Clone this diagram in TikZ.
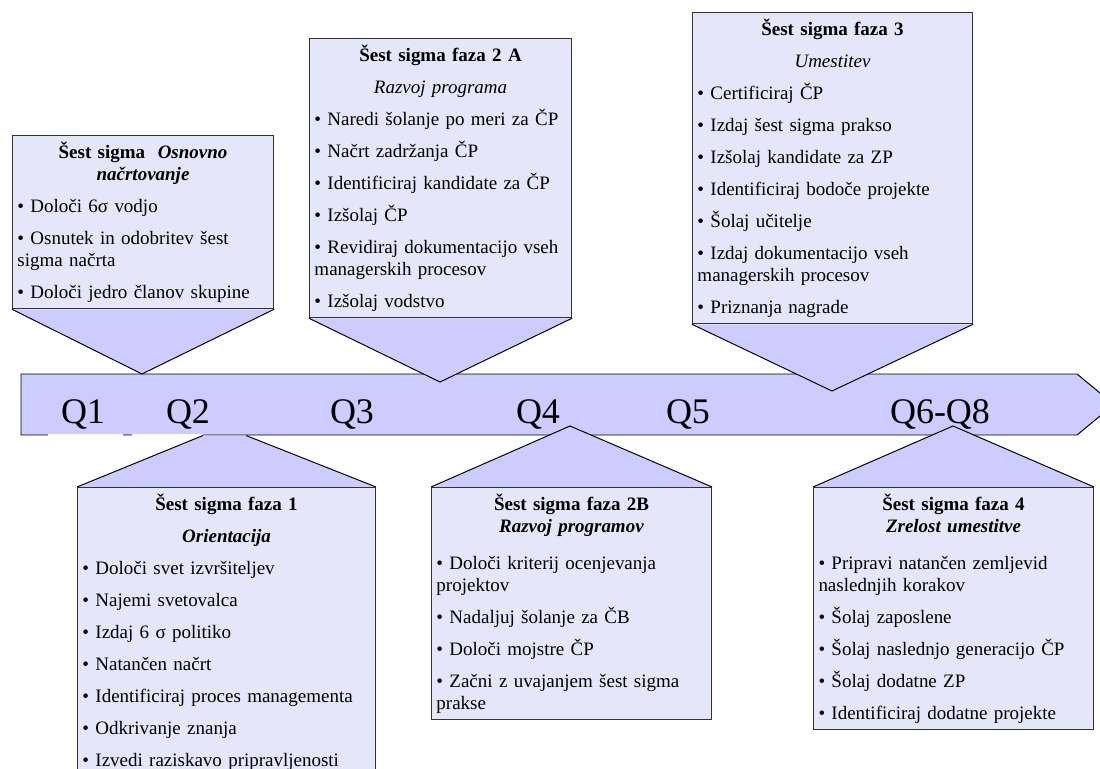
\documentclass[tikz,border=0pt]{standalone}
\usepackage{fontspec}
\setmainfont{Liberation Serif}
\usetikzlibrary{positioning,backgrounds}

\definecolor{bandblue}{RGB}{204,204,255}
\definecolor{cardblue}{RGB}{230,230,250}
\setlength{\parindent}{0pt}

\newcommand{\cardgap}{\vspace{7.1pt}}
\newcommand{\cardhead}[1]{{\centering #1\par}}
\newcommand{\task}[1]{\cardgap\noindent\textbullet\ #1\par}

\begin{document}
\begin{tikzpicture}[
  x=0.025cm, y=-0.025cm,
  phase/.style={draw=black!80,line width=0.7pt,fill=cardblue,anchor=north west,align=left,inner xsep=0.125cm,inner ysep=0.16cm,font=\fontsize{13.5}{15.65}\selectfont},
  pointer/.style={draw=black,line width=0.7pt,fill=bandblue,line join=miter},
  quarter/.style={anchor=base,inner sep=0pt,font=\fontsize{25.6}{30}\selectfont}
]
  \useasboundingbox (0,0) rectangle (1100,769);

  % upper phases
  \node[phase, text width=6.275cm] (base) at (12,135) {\cardhead{\textbf{Šest sigma \ \textit{Osnovno}}}\cardhead{\textbf{\textit{načrtovanje}}}
    \task{Določi 6σ vodjo}
    \task{Osnutek in odobritev šest\newline sigma načrta}
    \task{Določi jedro članov skupine}};
  \node[phase, text width=6.30cm] (deva) at (309,38) {\cardhead{\textbf{Šest sigma faza 2 A}}\cardgap\cardhead{\textit{Razvoj programa}}
    \task{Naredi šolanje po meri za ČP}
    \task{Načrt zadržanja ČP}
    \task{Identificiraj kandidate za ČP}
    \task{Izšolaj ČP}
    \task{Revidiraj dokumentacijo vseh\newline managerskih procesov}
    \task{Izšolaj vodstvo}};
  \node[phase, text width=6.75cm] (deploy) at (692,12) {\cardhead{\textbf{Šest sigma faza 3}}\cardgap\cardhead{\textit{Umestitev}}
    \task{Certificiraj ČP}
    \task{Izdaj šest sigma prakso}
    \task{Izšolaj kandidate za ZP}
    \task{Identificiraj bodoče projekte}
    \task{Šolaj učitelje}
    \task{Izdaj dokumentacijo vseh\newline managerskih procesov}
    \task{Priznanja nagrade}};

  % lower phases
  \node[phase, text width=7.20cm] (orient) at (77,487) {\cardhead{\textbf{Šest sigma faza 1}}\cardgap\cardhead{\textbf{\textit{Orientacija}}}
    \task{Določi svet izvršiteljev}
    \task{Najemi svetovalca}
    \task{Izdaj 6 σ politiko}
    \task{Natančen načrt}
    \task{Identificiraj proces managementa}
    \task{Odkrivanje znanja}
    \task{Izvedi raziskavo pripravljenosti}};
  \node[phase, text width=6.75cm] (devb) at (431,487) {\cardhead{\textbf{Šest sigma faza 2B}}\cardhead{\textbf{\textit{Razvoj programov}}}\vspace{3.6pt}
    \task{Določi kriterij ocenjevanja\newline projektov}
    \task{Nadaljuj šolanje za ČB}
    \task{Določi mojstre ČP}
    \task{Začni z uvajanjem šest sigma\newline prakse}};
  \node[phase, text width=6.75cm] (mature) at (813,487) {\cardhead{\textbf{Šest sigma faza 4}}\cardhead{\textbf{\textit{Zrelost umestitve}}}\vspace{3.6pt}
    \task{Pripravi natančen zemljevid\newline naslednjih korakov}
    \task{Šolaj zaposlene}
    \task{Šolaj naslednjo generacijo ČP}
    \task{Šolaj dodatne ZP}
    \task{Identificiraj dodatne projekte}};

  \coordinate (tipbase) at (142,374);
  \coordinate (tipdeva) at (440,382);
  \coordinate (tipdeploy) at (832,391);
  \coordinate (orientl) at (203,435.5);
  \coordinate (orientr) at (246,435.5);
  \coordinate (tipdevb) at (570,426);
  \coordinate (tipmature) at (953,426);

  \begin{scope}[on background layer]
    % time line
    \draw[pointer] (21,374) -- (1077,374) -- (1114,404.5) -- (1077,435) -- (21,435) -- cycle;
    \fill[white] (48,434.2) rectangle (123,437.6);
    \fill[white] (132,434.2) rectangle (203,437.6);
    \draw[pointer] (base.south west) -- (tipbase) -- (base.south east);
    \draw[pointer] (deva.south west) -- (tipdeva) -- (deva.south east);
    \draw[pointer] (deploy.south west) -- (tipdeploy) -- (deploy.south east);
    \fill[bandblue] (orient.north west) -- (orientl) -- (orientr) -- (orient.north east) -- cycle;
    \draw[pointer,fill=none] (orient.north west) -- (orientl);
    \draw[pointer,fill=none] (orient.north east) -- (orientr);
    \draw[pointer] (devb.north west) -- (tipdevb) -- (devb.north east);
    \draw[pointer] (mature.north west) -- (tipmature) -- (mature.north east);
  \end{scope}

  \node[quarter] (q1) at (83,423) {Q1};
  \node[quarter] (q2) at (188,423) {Q2};
  \node[quarter] (q3) at (352,423) {Q3};
  \node[quarter] (q4) at (538,423) {Q4};
  \node[quarter] (q5) at (688,423) {Q5};
  \node[quarter] (q6) at (940,423) {Q6-Q8};
\end{tikzpicture}
\end{document}
